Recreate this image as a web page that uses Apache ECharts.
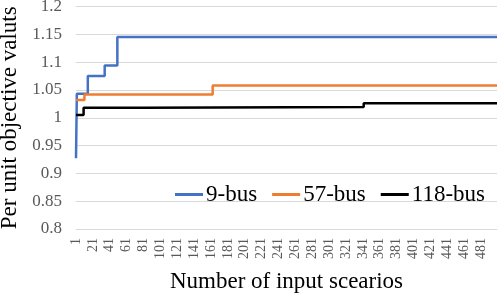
<!DOCTYPE html>
<html><head><meta charset="utf-8">
<script src="https://cdn.jsdelivr.net/npm/echarts@6/dist/echarts.min.js"></script>
<style>html,body{margin:0;padding:0;background:#fff}#c{width:498px;height:298px}</style>
</head><body><div id="c"></div>
<script>
// Categories: scenario numbers 1..500
const scenarioCount = 500;
const categories = [];
for (let i = 1; i <= scenarioCount; i++) categories.push(String(i));

// Step-change points [scenario, value] (value held until next point)
const bus9 = [['1', 0.927], ['2', 1.043], ['15', 1.075], ['35', 1.094], ['50', 1.145], ['500', 1.145]];
const bus57 = [['1', 1.032], ['11', 1.042], ['163', 1.058], ['500', 1.058]];
const bus118 = [['1', 1.005], ['10', 1.018], ['80', 1.0195], ['342', 1.026], ['500', 1.026]];

const seriesNames = ['9-bus', '57-bus', '118-bus'];
const seriesColors = ['#4472C4', '#ED7D31', '#000000'];
const seriesData = [bus9, bus57, bus118];

const yMin = 0.8, yMax = 1.2, yStep = 0.05;
const font = "'Liberation Serif', 'Times New Roman', serif";

const chart = echarts.init(document.getElementById('c'));
chart.setOption({
  animation: false,
  backgroundColor: '#fff',
  grid: { left: 76, right: 1, top: 6.5, bottom: 69, containLabel: false, outerBoundsMode: 'none' },
  legend: {
    data: seriesNames,
    right: 8, top: 178,
    icon: 'rect', itemWidth: 28, itemHeight: 3, itemGap: 15,
    textStyle: { fontFamily: font, fontSize: 23, color: '#000', padding: [0, 0, 0, -2] }
  },
  xAxis: {
    type: 'category', data: categories, boundaryGap: false,
    name: 'Number of input scearios', nameLocation: 'middle', nameGap: 41,
    nameTextStyle: { fontFamily: font, fontSize: 23, color: '#000' },
    axisLine: { lineStyle: { color: '#d9d9d9' } },
    axisTick: { show: false },
    axisLabel: { interval: 19, rotate: 90, fontFamily: font, fontSize: 14, color: '#595959', margin: 9 },
    splitLine: { show: false }
  },
  yAxis: {
    type: 'value', min: yMin, max: yMax, interval: yStep,
    name: 'Per unit objective valuts', nameLocation: 'middle', nameGap: 52,
    nameTextStyle: { fontFamily: font, fontSize: 23, color: '#000' },
    axisLine: { show: false }, axisTick: { show: false },
    axisLabel: { fontFamily: font, fontSize: 17, color: '#595959', margin: 14,
      formatter: v => String(parseFloat(v.toFixed(2))) },
    splitLine: { lineStyle: { color: '#d9d9d9', width: 1 } }
  },
  series: seriesNames.map((n, i) => ({
    name: n, type: 'line', step: 'end', data: seriesData[i],
    showSymbol: false, symbol: 'none',
    lineStyle: { color: seriesColors[i], width: 2.5 },
    itemStyle: { color: seriesColors[i] }
  }))
});
</script></body></html>
